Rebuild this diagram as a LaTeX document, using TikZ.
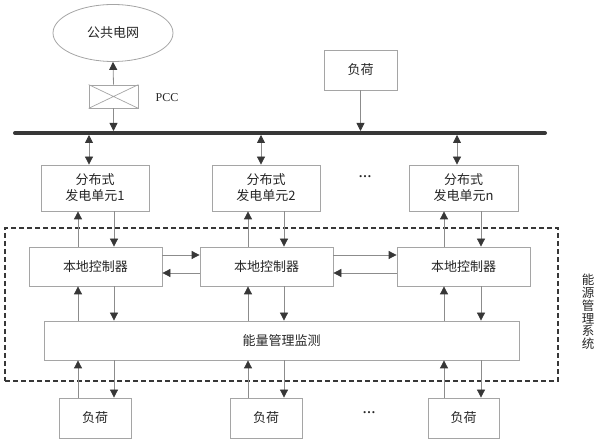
\documentclass[tikz,border=0pt]{standalone}
\usepackage{fontspec}
\setmainfont{Liberation Serif}
\newfontfamily\cjk{Noto Sans CJK SC}
\usetikzlibrary{arrows.meta,shapes.geometric}
\definecolor{boxgray}{RGB}{165,165,165}
\definecolor{linegray}{RGB}{140,140,140}
\definecolor{tipgray}{RGB}{55,55,55}
\definecolor{busgray}{RGB}{55,55,55}
\tikzset{
  blk/.style={draw=boxgray, line width=0.8pt, fill=white, inner sep=0pt, align=center,
    font=\cjk\fontsize{13}{16}\selectfont, text=black!85},
  tipa/.tip={Triangle[length=8pt,width=8pt,color=tipgray]},
  arr/.style={draw=linegray, line width=0.8pt, -tipa},
  darr/.style={draw=linegray, line width=0.8pt, tipa-tipa},
  dashbox/.style={draw=busgray, line width=2.4pt, dash pattern=on 5pt off 3pt, inner sep=0pt},
  dots/.style={font=\bfseries\fontsize{13}{13}\selectfont, text=black!85}
}
\begin{document}
\begin{tikzpicture}[x=1pt,y=-1pt]
\useasboundingbox (0,0) rectangle (595,443);
% grid, PCC
\node[blk, ellipse, minimum width=120, minimum height=57, draw=boxgray] (grid) at (113,33) {公共电网};
\node[blk, minimum width=49, minimum height=23] (pcc) at (113.5,96.5) {};
\draw[boxgray, line width=0.7pt] (pcc.north west) -- (pcc.south east) (pcc.south west) -- (pcc.north east);
\node[font=\fontsize{12}{12}\selectfont, text=black!85] (pccl) at (167,98) {PCC};
% bus
\coordinate (busL) at (15,133);
\coordinate (busR) at (545,133);
\draw[busgray, line width=4pt, line cap=round] (busL) -- (busR);
% top load
\node[blk, minimum width=73, minimum height=40] (ltop) at (360.5,70) {负荷};
% generators
\node[blk, minimum width=108, minimum height=46] (g1) at (95,188) {分布式\\发电单元1};
\node[blk, minimum width=108, minimum height=46] (g2) at (266,188) {分布式\\发电单元2};
\node[blk, minimum width=109, minimum height=46] (g3) at (463.5,188) {分布式\\发电单元n};
\node[dots] (d1) at (365,177) {…};
% dashed system box
\node[dashbox, minimum width=553, minimum height=153] (sys) at (281.5,304.5) {};
\node[blk, draw=none, fill=none, font=\cjk\fontsize{12.5}{12.8}\selectfont] (sysl) at (588,312) {能\\源\\管\\理\\系\\统};
% controllers
\node[blk, minimum width=133, minimum height=39] (c1) at (95.5,266.5) {本地控制器};
\node[blk, minimum width=133, minimum height=39] (c2) at (266.5,266.5) {本地控制器};
\node[blk, minimum width=133, minimum height=39] (c3) at (463.5,266.5) {本地控制器};
% EMS
\node[blk, minimum width=475, minimum height=39] (ems) at (281.5,340.5) {能量管理监测};
% bottom loads
\node[blk, minimum width=72, minimum height=40] (l1) at (95,418) {负荷};
\node[blk, minimum width=72, minimum height=40] (l2) at (266,418) {负荷};
\node[blk, minimum width=71, minimum height=40] (l3) at (463.5,418) {负荷};
\node[dots] (d2) at (369,413) {…};
% top connectors
\draw[arr] (pcc.north) -- (grid.south);
\draw[arr] (pcc.south) -- (pcc.south |- 0,131);
\draw[arr] (ltop.south) -- (ltop.south |- 0,131);
\draw[darr] (89,135) -- (g1.north -| 89,0);
\draw[darr] (261,135) -- (g2.north -| 261,0);
\draw[darr] (457,135) -- (g3.north -| 457,0);
% gen <-> controller, controller <-> EMS, EMS <-> loads
\foreach \g/\c/\l/\a/\b in {g1/c1/l1/78/114, g2/c2/l2/248/284, g3/c3/l3/444/481}{
  \draw[arr] (\c.north -| \a,0) -- (\g.south -| \a,0);
  \draw[arr] (\g.south -| \b,0) -- (\c.north -| \b,0);
  \draw[arr] (ems.north -| \a,0) -- (\c.south -| \a,0);
  \draw[arr] (\c.south -| \b,0) -- (ems.north -| \b,0);
  \draw[arr] (\l.north -| \a,0) -- (ems.south -| \a,0);
  \draw[arr] (ems.south -| \b,0) -- (\l.north -| \b,0);
}
% controller <-> controller
\draw[arr] (c1.east |- 0,255) -- (c2.west |- 0,255);
\draw[arr] (c2.west |- 0,273) -- (c1.east |- 0,273);
\draw[arr] (c2.east |- 0,255) -- (c3.west |- 0,255);
\draw[arr] (c3.west |- 0,273) -- (c2.east |- 0,273);
\end{tikzpicture}
\end{document}
